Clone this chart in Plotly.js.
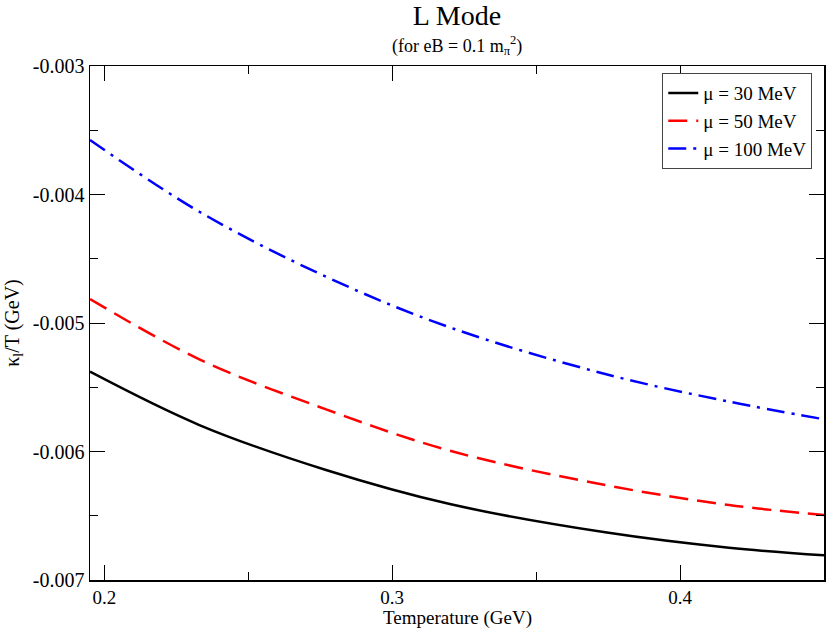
<!DOCTYPE html>
<html>
<head>
<meta charset="utf-8">
<script src="https://cdn.plot.ly/plotly-3.0.1.min.js"></script>
<style>html,body{margin:0;padding:0;background:#fff;}#chart{width:828px;height:629px;}</style>
</head>
<body>
<div id="chart"></div>
<script>
// Temperature (GeV)
const temperature = [0.195, 0.233, 0.277, 0.320, 0.374, 0.417, 0.450];
// kappa_l / T (GeV) for each chemical potential
const mu30 = [-0.005379, -0.005794, -0.006144, -0.006409, -0.006629, -0.006749, -0.006808];
const mu50 = [-0.004813, -0.005283, -0.005672, -0.005994, -0.006261, -0.006416, -0.006494];
const mu100 = [-0.003576, -0.004134, -0.004640, -0.005034, -0.005397, -0.005612, -0.005749];
const seriesNames = ['\u03bc = 30 MeV', '\u03bc = 50 MeV', '\u03bc = 100 MeV'];

const xTickVals = [0.2, 0.3, 0.4];
const xTickText = ['0.2', '0.3', '0.4'];
const xMinorTicks = [0.25, 0.35, 0.45];
const yTickVals = [-0.007, -0.006, -0.005, -0.004, -0.003];
const yTickText = ['-0.007', '-0.006', '-0.005', '-0.004', '-0.003'];
const yMinorTicks = [-0.0065, -0.0055, -0.0045, -0.0035];

const FONT = 'Liberation Serif, Times New Roman, serif';

const traces = [
  {x: temperature, y: mu30, name: seriesNames[0], mode: 'lines', line: {color: '#000000', width: 2.5, shape: 'spline'}},
  {x: temperature, y: mu50, name: seriesNames[1], mode: 'lines', line: {color: '#ff0000', width: 2.5, dash: '19px,9px', shape: 'spline'}},
  {x: temperature, y: mu100, name: seriesNames[2], mode: 'lines', line: {color: '#0000ff', width: 2.5, dash: '18px,7px,3px,7px', shape: 'spline'}}
];

const axisCommon = {
  showline: true, linecolor: '#000', linewidth: 1.5, mirror: 'allticks',
  ticks: 'inside', ticklen: 15, tickwidth: 1, tickcolor: '#000',
  showgrid: false, zeroline: false,
  tickfont: {family: FONT, size: 20, color: '#000'},
  tickmode: 'array'
};

const layout = {
  width: 828, height: 629,
  margin: {l: 90, r: 4, t: 66, b: 49},
  paper_bgcolor: '#fff', plot_bgcolor: '#fff',
  font: {family: FONT, color: '#000'},
  showlegend: true,
  title: {
    text: 'L Mode',
    font: {family: FONT, size: 28, color: '#000'},
    x: 0.5, xref: 'paper', xanchor: 'center',
    y: 0.992, yref: 'container', yanchor: 'top'
  },
  annotations: [{
    text: '(for eB = 0.1 m<sub>\u03c0</sub><sup>2</sup>)',
    xref: 'paper', yref: 'paper', x: 0.5, y: 1.068, xanchor: 'center', yanchor: 'top',
    showarrow: false, font: {family: FONT, size: 18, color: '#000'}
  }, {
    text: 'Temperature (GeV)',
    xref: 'paper', yref: 'paper', x: 0.5, y: -0.074, xanchor: 'center', yanchor: 'middle',
    showarrow: false, font: {family: FONT, size: 19, color: '#000'}
  }],
  xaxis: Object.assign({}, axisCommon, {
    range: [0.195, 0.45],
    tickvals: xTickVals, ticktext: xTickText,
    tickfont: {family: FONT, size: 19, color: '#000'},
    minor: {tickvals: xMinorTicks, ticks: 'inside', ticklen: 8, tickwidth: 1, tickcolor: '#000'}
  }),
  yaxis: Object.assign({}, axisCommon, {
    range: [-0.007, -0.003],
    tickvals: yTickVals, ticktext: yTickText,
    minor: {tickvals: yMinorTicks, ticks: 'inside', ticklen: 8, tickwidth: 1, tickcolor: '#000'},
    title: {text: '\u03ba<sub>l</sub>/T (GeV)', font: {family: FONT, size: 20, color: '#000'}, standoff: 8}
  }),
  legend: {
    x: 0.984, y: 0.986, xanchor: 'right', yanchor: 'top',
    bgcolor: '#fff', bordercolor: '#444', borderwidth: 1,
    font: {family: FONT, size: 19, color: '#000'},
    tracegroupgap: 0, itemwidth: 30
  }
};

Plotly.newPlot('chart', traces, layout, {staticPlot: true, displayModeBar: false});
</script>
</body>
</html>
